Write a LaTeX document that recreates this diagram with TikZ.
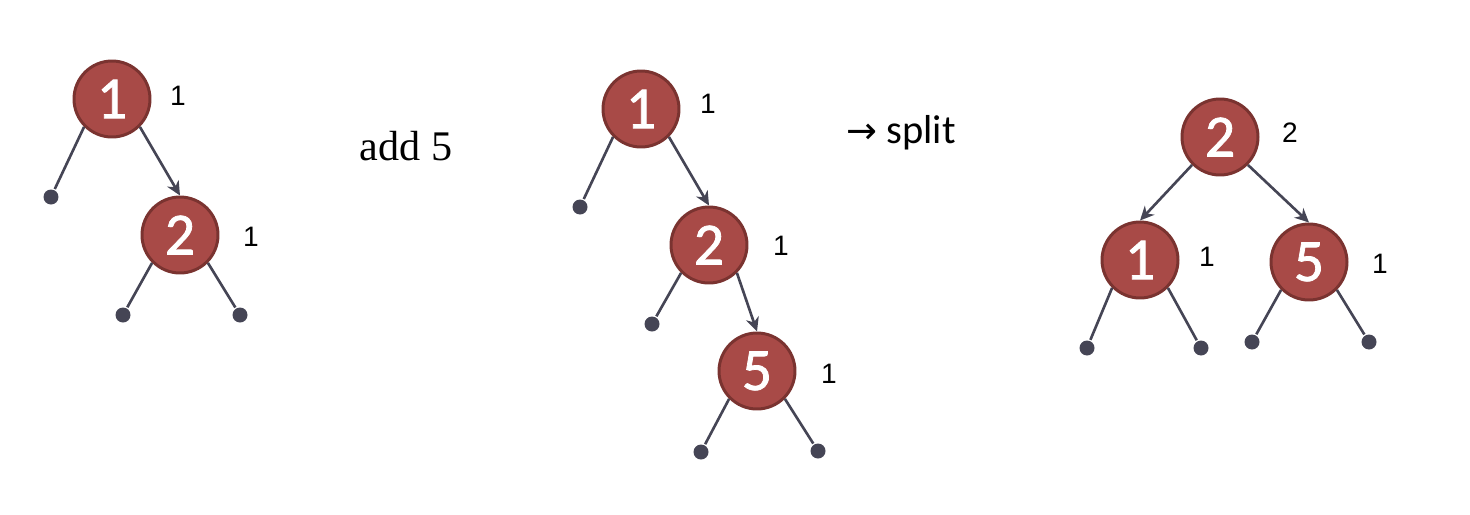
\documentclass[tikz,border=0pt]{standalone}
\usepackage{fontspec}
\setmainfont{Liberation Serif}
\newfontfamily\keyfont[BoldFont=Carlito,BoldFeatures={FakeBold=1.3}]{Carlito}
\newfontfamily\cntfont{Liberation Sans}
\newfontfamily\arrowfont{DejaVu Sans}
\usetikzlibrary{arrows.meta}
\definecolor{keyred}{HTML}{A84A47}
\definecolor{keyrim}{HTML}{7A3330}
\definecolor{linkgray}{HTML}{454555}

\begin{document}
\begin{tikzpicture}[x=0.02cm,y=-0.02cm,->,>={Stealth[length=8pt,width=7.5pt,inset=2.5pt]},line width=1.5pt,draw=linkgray,
    key node/.style={circle,fill=keyred,draw=keyrim,line width=1.7pt,minimum size=1.52cm,inner sep=0pt,text=white,font=\keyfont\bfseries\fontsize{34}{36}\selectfont},
    leaf node/.style={circle,fill=linkgray,draw=none,inner sep=0pt,minimum size=0.3cm},
    count node/.style={font=\cntfont\fontsize{16}{18}\selectfont}]
                    \useasboundingbox (0,0) rectangle (1470,514);

                    % first tree
                    \node[key node] (a1) at (112,99) {1};
                    \node[key node] (a2) at (180,235) {2};
                    \node[leaf node] (al1) at (51,197) {};
                    \node[leaf node] (al2) at (123,315) {};
                    \node[leaf node] (al3) at (240,315) {};
                    \node[count node] (ac1) at (178,96) {1};
                    \node[count node] (ac2) at (251,237) {1};

                    \node[font=\fontsize{24}{28}\selectfont] (add) at (406,146) {add 5};

                    % second tree
                    \node[key node] (b1) at (641,109) {1};
                    \node[key node] (b2) at (709,245) {2};
                    \node[key node] (b5) at (757,371) {5};
                    \node[leaf node] (bl1) at (580,207) {};
                    \node[leaf node] (bl2) at (652,324) {};
                    \node[leaf node] (bl3) at (701,452) {};
                    \node[leaf node] (bl4) at (818,451) {};
                    \node[count node] (bc1) at (708,104) {1};
                    \node[count node] (bc2) at (781,246) {1};
                    \node[count node] (bc5) at (829,374) {1};

                    \node[font=\keyfont\fontsize{23}{26}\selectfont] (split) at (901,133) {{\arrowfont\fontsize{21}{24}\selectfont→} split};

                    % third tree
                    \node[key node] (c2) at (1220,137) {2};
                    \node[key node] (c1) at (1140,260) {1};
                    \node[key node] (c5) at (1309,262) {5};
                    \node[leaf node] (cl1) at (1087,348) {};
                    \node[leaf node] (cl2) at (1201,348) {};
                    \node[leaf node] (cl3) at (1252,342) {};
                    \node[leaf node] (cl4) at (1369,342) {};
                    \node[count node] (cc2) at (1290,133) {2};
                    \node[count node] (cc1) at (1207,257) {1};
                    \node[count node] (cc5) at (1380,264) {1};

                    \path[color=linkgray]
                        (a1.south east) edge (a2.north)
                        (a1.south west) edge[-] (al1)
                        (a2.south west) edge[-] (al2)
                        (a2.south east) edge[-] (al3)
                        (b1.south east) edge (b2.north)
                        (b2.south east) edge (b5.north)
                        (b1.south west) edge[-] (bl1)
                        (b2.south west) edge[-] (bl2)
                        (b5.south west) edge[-] (bl3)
                        (b5.south east) edge[-] (bl4)
                        (c2.south west) edge (c1.north)
                        (c2.south east) edge (c5.north)
                        (c1.south west) edge[-] (cl1)
                        (c1.south east) edge[-] (cl2)
                        (c5.south west) edge[-] (cl3)
                        (c5.south east) edge[-] (cl4)
                        ;
                \end{tikzpicture}
\end{document}
